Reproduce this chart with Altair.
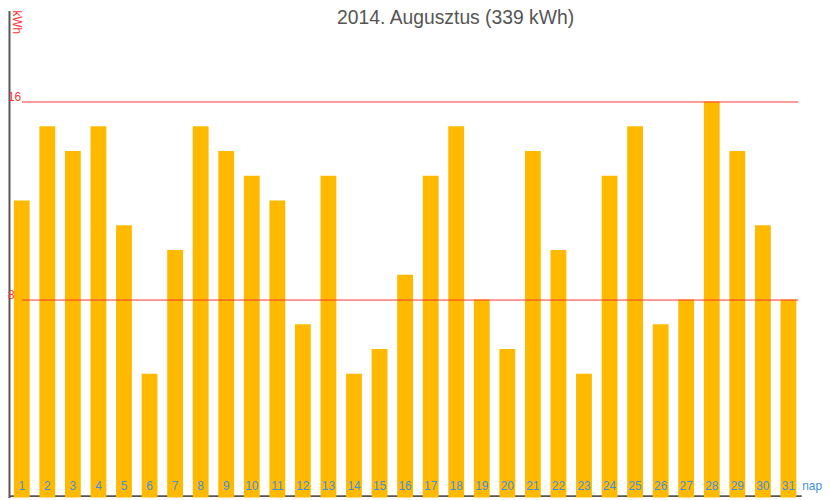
import altair as alt
import pandas as pd

days = list(range(1, 32))
kwh = [12, 15, 14, 15, 11, 5, 10, 15, 14, 13,
       12, 7, 13, 5, 6, 9, 13, 15, 8, 6,
       14, 10, 5, 13, 15, 7, 8, 16, 14, 11, 8]
grid_vals = [8, 16]
title_text = "2014. Augusztus (339 kWh)"
y_unit = "kWh"
x_unit = "nap"

W, H = 800, 492
BAR = "#FFBA00"
RED = "#FF3333"
BLUE = "#3D8FE6"
AXIS = "#555555"

df = pd.DataFrame({"day": days, "kwh": kwh})
gdf = pd.DataFrame({"v": grid_vals, "lab": [str(v) for v in grid_vals]})

xs = alt.Scale(paddingInner=0.38, paddingOuter=0.19)
ys = alt.Scale(domain=[0, 19.68], nice=False, zero=True)
xaxis = alt.Axis(domain=True, domainColor=AXIS, domainWidth=2, labels=False,
                 ticks=False, grid=False, title=None, offset=-2)
yaxis = alt.Axis(domain=True, domainColor=AXIS, domainWidth=2, labels=False,
                 ticks=False, grid=False, title=None)

bars = alt.Chart(df).mark_bar(color=BAR).encode(
    x=alt.X("day:O", scale=xs, axis=xaxis),
    y=alt.Y("kwh:Q", scale=ys, axis=yaxis),
)

day_labels = alt.Chart(df).mark_text(
    color=BLUE, fontSize=12, font="Liberation Sans", baseline="middle"
).encode(
    x=alt.X("day:O", scale=xs, axis=xaxis),
    y=alt.value(480),
    text="day:O",
)

rules = alt.Chart(gdf).mark_rule(color=RED, strokeWidth=1, yOffset=0.5).encode(
    y=alt.Y("v:Q", scale=ys, axis=yaxis),
    x=alt.value(13),
    x2=alt.value(W - 3),
)

rule_labels = alt.Chart(gdf).mark_text(
    color=RED, fontSize=12, font="Liberation Sans", align="left",
    baseline="alphabetic", dy=-1
).encode(
    y=alt.Y("v:Q", scale=ys, axis=yaxis),
    x=alt.value(-1),
    text="lab:N",
)

title = alt.Chart(pd.DataFrame({"t": [title_text]})).mark_text(
    color="#555555", fontSize=19.5, font="Liberation Sans", align="center",
    baseline="top"
).encode(x=alt.value(451), y=alt.value(-1), text="t:N")

yunit = alt.Chart(pd.DataFrame({"t": [y_unit]})).mark_text(
    color=RED, fontSize=12, font="Liberation Sans", align="left",
    baseline="alphabetic", angle=90
).encode(x=alt.value(4), y=alt.value(0), text="t:N")

xunit = alt.Chart(pd.DataFrame({"t": [x_unit]})).mark_text(
    color=BLUE, fontSize=12, font="Liberation Sans", align="left",
    baseline="middle"
).encode(x=alt.value(W + 1), y=alt.value(480), text="t:N")

chart = alt.layer(bars, rules, rule_labels, day_labels, title, yunit, xunit).properties(
    width=W, height=H,
    padding={"left": 1, "top": 0, "right": 21, "bottom": 0},
    autosize=alt.AutoSizeParams(type="none"),
).configure_view(stroke=None)

chart.save("out.html", embed_options={"renderer": "svg", "actions": False})
